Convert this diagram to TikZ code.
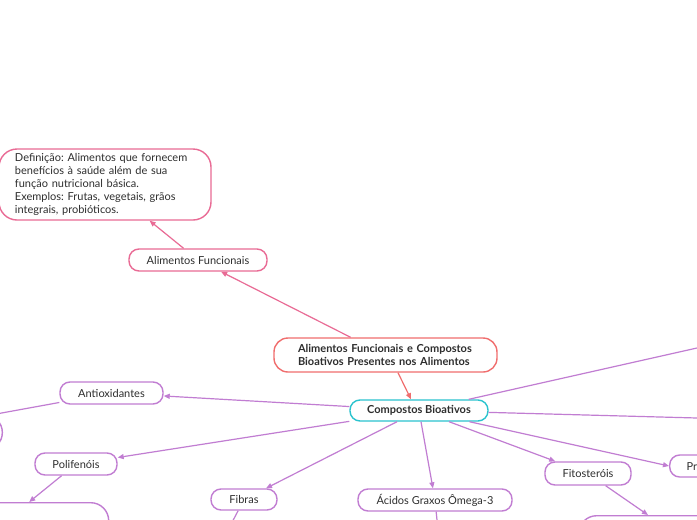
\documentclass[tikz,border=0pt]{standalone}
\usepackage{fontspec}
\setmainfont{Lato}
\usetikzlibrary{arrows.meta}
\frenchspacing
\definecolor{pk}{HTML}{E96B95}
\definecolor{co}{HTML}{F06E6E}
\definecolor{cy}{HTML}{2BC3CE}
\definecolor{pu}{HTML}{C17DD2}
\definecolor{tx}{HTML}{2E2E2E}
\tikzset{
  box/.style={draw, line width=1.4pt, rounded corners=10pt, inner sep=0pt, text=tx,
    font=\frenchspacing\fontsize{11}{13}\selectfont, fill=white},
  pkbox/.style={box, draw=pk},
  pubox/.style={box, draw=pu},
  boldtext/.style={font=\frenchspacing\bfseries\fontsize{11}{13}\selectfont},
  pkline/.style={draw=pk, line width=1.2pt, -{Triangle[length=6pt,width=5pt]}},
  puline/.style={draw=pu, line width=1.2pt, -{Triangle[length=6pt,width=5pt]}},
  puplain/.style={draw=pu, line width=1.2pt},
}
\begin{document}
\begin{tikzpicture}[x=1pt,y=-1pt]
\useasboundingbox (0,0) rectangle (697,520);
\fill[white] (0,0) rectangle (697,520);
\clip (0,0) rectangle (697,520);

% nodes
\node[pkbox, rounded corners=18pt, minimum width=212pt, minimum height=71pt, text width=180pt, inner xsep=16pt, align=left] (def) at (105,184.5)
  {Definição: Alimentos que fornecem\\benefícios à saúde além de sua\\função nutricional básica.\\Exemplos: Frutas, vegetais, grãos\\integrais, probióticos.};
\node[pkbox, minimum width=138pt, minimum height=22pt] (af) at (198,260) {Alimentos Funcionais};
\node[box, draw=co, rounded corners=14pt, minimum width=223pt, minimum height=34pt, text width=175pt, inner xsep=24pt, align=left, boldtext] (root) at (385.5,355)
  {Alimentos Funcionais e Compostos\\Bioativos Presentes nos Alimentos};
\node[box, draw=cy, minimum width=138pt, minimum height=21pt, boldtext] (cb) at (419,410.5) {Compostos Bioativos};
\node[pubox, minimum width=103pt, minimum height=22pt] (anti) at (111.5,393) {Antioxidantes};
\node[pubox, minimum width=82pt, minimum height=22pt] (poli) at (76,464) {Polifenóis};
\node[pubox, minimum width=66pt, minimum height=21pt] (fib) at (244,499.5) {Fibras};
\node[pubox, minimum width=154pt, minimum height=22pt] (acid) at (435,500) {Ácidos Graxos Ômega-3};
\node[pubox, minimum width=86pt, minimum height=23pt] (fito) at (588,473.5) {Fitosteróis};
\node[pubox, anchor=west, minimum height=22pt, text width=70pt, inner xsep=17pt, align=left] (pr) at (669,466) {Prebióticos};
\node[pubox, rounded corners=18pt, anchor=north west, minimum width=151pt, minimum height=60pt, text width=119pt, inner xsep=16pt, inner ysep=5pt, align=left] (cv) at (-43,502) {Compostos vegetais\\\mbox{}};
\node[pubox, rounded corners=16pt, anchor=east, minimum width=150pt, minimum height=33pt] (lp) at (3,432.5) {};
\node[pubox, rounded corners=18pt, anchor=north west, minimum width=200pt, minimum height=50pt] (br) at (578,515) {};
\coordinate (o1) at (697,348);
\coordinate (o2) at (697,418);
\coordinate (fd) at (228,530);
\coordinate (ad) at (438,530);

% connectors
\draw[pkline] (af) -- (def);
\draw[pkline] (root) -- (af);
\draw[draw=co, line width=1.2pt, -{Triangle[length=6pt,width=5pt]}] ([xshift=12.5pt]root.south) -- ([xshift=-8pt]cb.north);
\draw[puline] (cb) -- (anti);
\draw[puline] (cb) -- (poli);
\draw[puline] (cb) -- (fib);
\draw[puline] (cb) -- (acid);
\draw[puline] (cb) -- (fito);
\draw[puline] (cb) -- (pr.west);
\draw[puplain] (cb) -- (o1);
\draw[puplain] (cb) -- (o2);
\draw[puline] (anti) -- ([xshift=-14pt]lp.north east);
\draw[puline] (poli) -- ([xshift=-4pt]cv.north);
\draw[puline] (fito) -- ([xshift=70pt]br.north west);
\draw[puplain] (fib) -- (fd);
\draw[puplain] (acid) -- (ad);
\end{tikzpicture}
\end{document}
